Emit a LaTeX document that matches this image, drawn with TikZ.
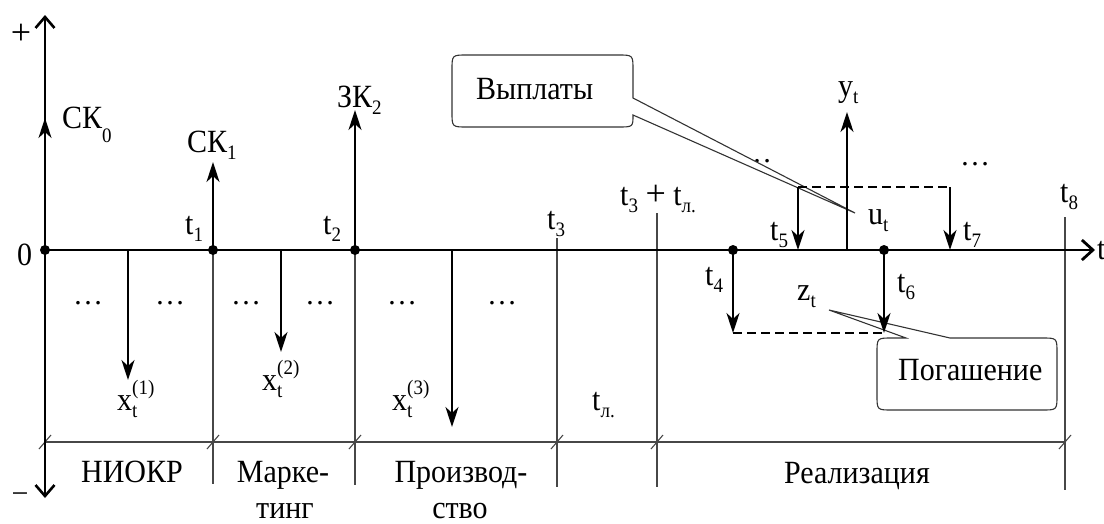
\documentclass[tikz,border=0pt]{standalone}
\usepackage{graphicx}
\usepackage{fontspec}
\setmainfont{Liberation Serif}
\usetikzlibrary{arrows.meta}
\newcommand{\subsz}{\fontsize{19}{19}\selectfont}
\newcommand{\vs}[1]{\scalebox{1}[1.08]{#1}}
\newcommand{\sbx}[2]{\vs{#1\raisebox{-7pt}{\subsz #2}}}
\newcommand{\sbxl}[3]{\vs{#1\raisebox{-#3}{\subsz #2}}}
\newcommand{\ssx}[3]{\vs{#1\makebox[0pt][l]{\raisebox{14pt}{\subsz #3}}\raisebox{-7pt}{\subsz #2}}}
\newcommand{\bigplus}{{\fontsize{36}{40}\selectfont +}}
\begin{document}
\begin{tikzpicture}[x=1pt,y=-1pt,
  lbl/.style={font=\fontsize{30}{36}\selectfont, inner sep=0pt, anchor=base west},
  clbl/.style={font=\fontsize{30}{36}\selectfont, inner sep=0pt, anchor=base},
  axisline/.style={line width=2.6pt, {Straight Barb[length=11pt,width=19pt]}-{Straight Barb[length=11pt,width=19pt]}},
  axish/.style={line width=2.8pt, -{Straight Barb[length=11pt,width=20pt]}},
  flow/.style={line width=2.2pt, -{Stealth[length=20pt,width=13pt,inset=6pt]}},
  sep/.style={line width=1.1pt, black!72},
  dashline/.style={line width=1.8pt, dash pattern=on 9pt off 5pt},
  callout/.style={line width=1.1pt, black!80, fill=white},
  dotpt/.style={fill=black}
]
\useasboundingbox (0,0) rectangle (1104,523);

% coordinates
\coordinate (O) at (45,250);
\coordinate (Ytop) at (45,15);
\coordinate (Ybot) at (45,498);
\coordinate (Xend) at (1095,250);
\coordinate (CK0) at (45,118);
\coordinate (T1) at (213,250);
\coordinate (CK1) at (213,162);
\coordinate (T2) at (355,250);
\coordinate (ZK2) at (355,110);
\coordinate (X1a) at (128,250);
\coordinate (X1b) at (128,380);
\coordinate (X2a) at (281,250);
\coordinate (X2b) at (281,352);
\coordinate (X3a) at (452,250);
\coordinate (X3b) at (452,427);
\coordinate (T1bot) at (213,484);
\coordinate (T2bot) at (355,485);
\coordinate (T3top) at (557,238);
\coordinate (T3bot) at (557,487);
\coordinate (TLtop) at (657,213);
\coordinate (TLbot) at (657,487);
\coordinate (T8top) at (1065,217);
\coordinate (T8bot) at (1065,490);
\coordinate (Lleft) at (45,442);
\coordinate (Lright) at (1065,442);
\coordinate (T4) at (733,250);
\coordinate (T4b) at (733,333);
\coordinate (T6) at (884,250);
\coordinate (T6b) at (884,333);
\coordinate (T5a) at (798,187);
\coordinate (T5) at (798,250);
\coordinate (T7a) at (950,187);
\coordinate (T7) at (950,250);
\coordinate (Yt) at (847,250);
\coordinate (Ytb) at (847,112);
\coordinate (PT1) at (855,213);
\coordinate (PT2) at (829,310);

% separators and bottom line
\draw[sep] (T1) -- (T1bot);
\draw[sep] (T2) -- (T2bot);
\draw[sep] (T3top) -- (T3bot);
\draw[sep] (TLtop) -- (TLbot);
\draw[sep] (T8top) -- (T8bot);
\draw[sep] (Lleft) -- (Lright);
\foreach \xx in {45,213,355,557,657,1065}{
  \draw[sep] (\xx-6,449) -- (\xx+6,435);
}

% ellipses
\node[clbl] (d1) at (88,304) {…};
\node[clbl] (d2) at (170,304) {…};
\node[clbl] (d3) at (246,304) {…};
\node[clbl] (d4) at (320,304) {…};
\node[clbl] (d5) at (402,304) {…};
\node[clbl] (d6) at (502,304) {…};
\node[clbl] (d7) at (757,162) {…};
\node[clbl] (d8) at (975,165) {…};

% callouts
\draw[callout] (PT1) -- (633,115) .. controls (633,127) .. (618,127) -- (467,127)
  .. controls (452,127) .. (452,112) -- (452,70) .. controls (452,55) .. (467,55)
  -- (618,55) .. controls (633,55) .. (633,70) -- (633,98) -- cycle;
\node[lbl] (vypl) at (476,99) {\vs{Выплаты}};
\draw[callout] (PT2) -- (950,338) -- (1042,338) .. controls (1057,338) .. (1057,353)
  -- (1057,395) .. controls (1057,410) .. (1042,410) -- (892,410)
  .. controls (877,410) .. (877,395) -- (877,353) .. controls (877,338) .. (892,338)
  -- (906,338) -- cycle;
\node[lbl] (pog) at (898,380) {\vs{Погашение}};

% dashed lines
\draw[dashline] (T5a) -- (T7a);
\draw[dashline] (T4b) -- (T6b);

% axes
\draw[axisline] (Ybot) -- (Ytop);
\draw[axish] (O) -- (Xend);

% flows
\draw[flow] (O) -- (CK0);
\draw[flow] (T1) -- (CK1);
\draw[flow] (T2) -- (ZK2);
\draw[flow] (X1a) -- (X1b);
\draw[flow] (X2a) -- (X2b);
\draw[flow] (X3a) -- (X3b);
\draw[flow] (T4) -- (T4b);
\draw[flow] (T6) -- (T6b);
\draw[flow] (T5a) -- (T5);
\draw[flow] (T7a) -- (T7);
\draw[flow] (Yt) -- (Ytb);

% dots
\foreach \p in {O,T1,T2,T4,T6}{\fill[dotpt] (\p) circle (5pt);}

% labels
\node[font=\fontsize{36}{40}\selectfont, inner sep=0pt] (plus) at (21,34) {+};
\node[font=\fontsize{30}{36}\selectfont, inner sep=0pt] (minus) at (20,498) {−};
\node[lbl] (zero) at (17,265) {\vs{0}};
\node[lbl] (lCK0) at (62,128) {\sbxl{СК}{0}{13pt}};
\node[lbl] (lCK1) at (187,152) {\sbx{СК}{1}};
\node[lbl] (lZK2) at (337,107) {\sbx{ЗК}{2}};
\node[lbl] (lt1) at (185,234) {\sbx{t}{1}};
\node[lbl] (lt2) at (323,234) {\sbx{t}{2}};
\node[lbl] (lt3) at (547,229) {\sbx{t}{3}};
\node[lbl] (lt3l) at (620,205) {\sbx{t}{3} \bigplus{} \sbx{t}{л.}};
\node[lbl] (lt4) at (705,285) {\sbx{t}{4}};
\node[lbl] (lt5) at (770,240) {\sbx{t}{5}};
\node[lbl] (lt6) at (897,292) {\sbx{t}{6}};
\node[lbl] (lt7) at (963,240) {\sbx{t}{7}};
\node[lbl] (lt8) at (1060,202) {\sbx{t}{8}};
\node[lbl] (lt) at (1097,259) {\vs{t}};
\node[lbl] (lyt) at (838,96) {\sbx{y}{t}};
\node[lbl] (lut) at (868,224) {\sbx{u}{t}};
\node[lbl] (lzt) at (797,300) {\sbx{z}{t}};
\node[lbl] (lx1) at (117,410) {\ssx{x}{t}{(1)}};
\node[lbl] (lx2) at (262,390) {\ssx{x}{t}{(2)}};
\node[lbl] (lx3) at (392,410) {\ssx{x}{t}{(3)}};
\node[lbl] (ltl) at (592,410) {\sbx{t}{л.}};
\node[clbl] (ph1) at (132,482) {\vs{НИОКР}};
\node[clbl] (ph2a) at (283,482) {\vs{Марке-}};
\node[clbl] (ph2b) at (285,518) {\vs{тинг}};
\node[clbl] (ph3a) at (461,482) {\vs{Производ-}};
\node[clbl] (ph3b) at (460,518) {\vs{ство}};
\node[clbl] (ph4) at (857,483) {\vs{Реализация}};
\end{tikzpicture}
\end{document}
